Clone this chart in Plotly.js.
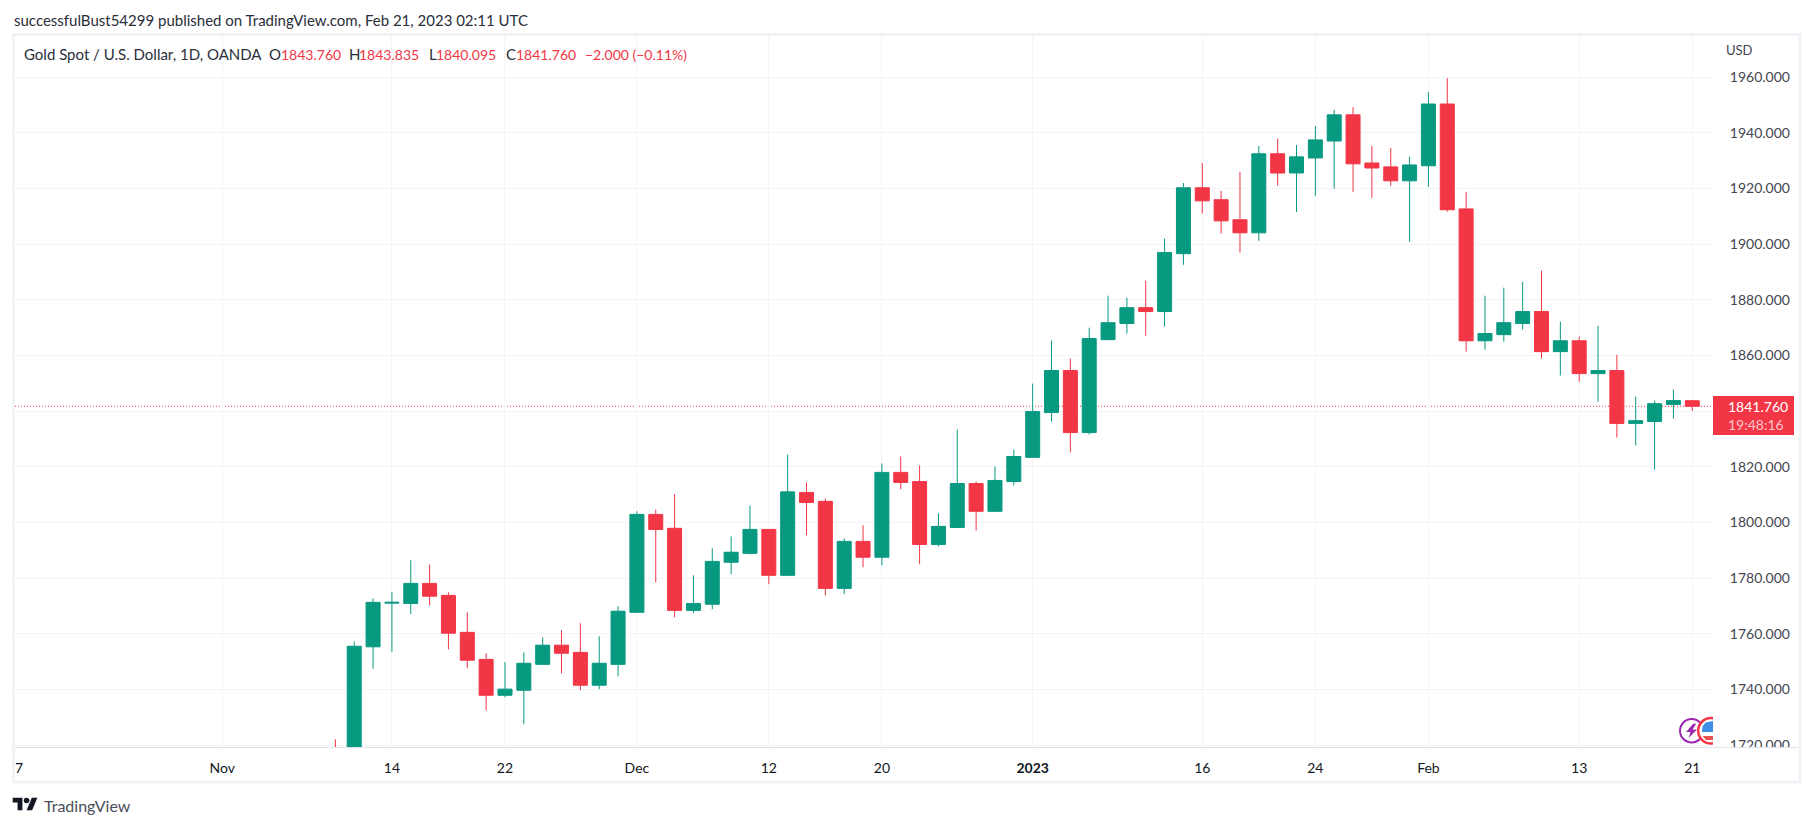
<!DOCTYPE html>
<html>
<head>
<meta charset="utf-8">
<script src="https://cdn.plot.ly/plotly-3.0.1.min.js"></script>
<style>
  html, body { margin: 0; padding: 0; background: #fff; overflow: hidden; }
  #chart { width: 1813px; height: 826px; }
</style>
</head>
<body>
<div id="chart"></div>
<script>
// Gold spot daily candles
const dates = [
  'Nov 09', 'Nov 10', 'Nov 11', 'Nov 14', 'Nov 15', 'Nov 16', 'Nov 17', 'Nov 18', 'Nov 21', 'Nov 22',
  'Nov 23', 'Nov 24', 'Nov 25', 'Nov 28', 'Nov 29', 'Nov 30', 'Dec 01', 'Dec 02', 'Dec 05', 'Dec 06',
  'Dec 07', 'Dec 08', 'Dec 09', 'Dec 12', 'Dec 13', 'Dec 14', 'Dec 15', 'Dec 16', 'Dec 19', 'Dec 20',
  'Dec 21', 'Dec 22', 'Dec 23', 'Dec 27', 'Dec 28', 'Dec 29', 'Dec 30', 'Jan 03', 'Jan 04', 'Jan 05',
  'Jan 06', 'Jan 09', 'Jan 10', 'Jan 11', 'Jan 12', 'Jan 13', 'Jan 16', 'Jan 17', 'Jan 18', 'Jan 19',
  'Jan 20', 'Jan 23', 'Jan 24', 'Jan 25', 'Jan 26', 'Jan 27', 'Jan 30', 'Jan 31', 'Feb 01', 'Feb 02',
  'Feb 03', 'Feb 06', 'Feb 07', 'Feb 08', 'Feb 09', 'Feb 10', 'Feb 13', 'Feb 14', 'Feb 15', 'Feb 16',
  'Feb 17', 'Feb 20', 'Feb 21'
];
const opens = [
  1712, 1705.5, 1755.3, 1771, 1770.9, 1778.1, 1773.8, 1760.5, 1750.8, 1737.9,
  1739.7, 1749, 1755.9, 1753.3, 1741.5, 1749, 1767.7, 1802.9, 1797.9, 1768.4,
  1770.6, 1785.7, 1788.9, 1797.5, 1781, 1810.8, 1807.6, 1776.3, 1793.2, 1787.5,
  1818, 1814.7, 1792.1, 1798.2, 1814, 1804, 1814.7, 1823.4, 1839.5, 1854.6,
  1832.3, 1865.7, 1871.5, 1877.2, 1875.8, 1896.6, 1920.3, 1916, 1908.8, 1904.1,
  1932.5, 1925.6, 1931, 1937.1, 1946.5, 1929.2, 1927.8, 1922.8, 1928.2, 1950.4,
  1912.7, 1865.3, 1867.5, 1871.5, 1875.8, 1861.4, 1865.3, 1853.5, 1854.6, 1835.6,
  1836.3, 1842.4, 1843.76
];
const highs = [
  1722.1, 1757.3, 1772.7, 1774.9, 1786.4, 1784.9, 1774.9, 1767.7, 1753, 1749.8,
  1753.3, 1758.7, 1761.3, 1763.8, 1759.1, 1769.9, 1804, 1804.7, 1810.2, 1781,
  1790.7, 1795, 1806.1, 1797.5, 1824.4, 1814.4, 1808.6, 1794.3, 1799, 1821.2,
  1823.7, 1820.5, 1803.3, 1833.4, 1814.7, 1820.1, 1826.2, 1849.9, 1865.4, 1858.9,
  1870, 1881.5, 1880.8, 1886.9, 1902, 1922, 1929.2, 1919.2, 1926, 1935.3,
  1937.9, 1935.7, 1942.5, 1948.3, 1949.3, 1935.3, 1934.6, 1931.4, 1954.7, 1959.7,
  1918.8, 1881.5, 1884.4, 1886.5, 1890.5, 1872.2, 1866.8, 1870.7, 1860.3, 1845.2,
  1843.8, 1847.8, 1843.835
];
const lows = [
  1704, 1702, 1747.4, 1753.5, 1767.1, 1770.2, 1754.4, 1747.6, 1732.5, 1737.2,
  1727.5, 1749, 1745.8, 1739.7, 1740.1, 1744.7, 1767.7, 1778.5, 1765.9, 1767.4,
  1768.8, 1781.4, 1788.5, 1777.8, 1781, 1795.4, 1773.8, 1774.2, 1783.9, 1784.6,
  1811.9, 1785, 1791.4, 1798.2, 1797.1, 1804, 1813.3, 1823.4, 1836.3, 1825.2,
  1831.6, 1865.7, 1867.9, 1867.1, 1870.4, 1892.6, 1911, 1903.8, 1897, 1901.2,
  1921, 1911.6, 1917.4, 1919.9, 1918.8, 1916.7, 1921, 1900.9, 1920.6, 1911.7,
  1861.4, 1862.1, 1865, 1869.3, 1858.9, 1852.8, 1850.6, 1843.4, 1830.5, 1827.7,
  1819, 1837.3, 1840.095
];
const closes = [
  1705, 1755.5, 1771.3, 1771.3, 1778.1, 1773.5, 1760.2, 1750.5, 1737.9, 1740.1,
  1749.4, 1755.9, 1753, 1741.5, 1749.4, 1768.1, 1802.9, 1797.5, 1768.4, 1770.9,
  1786, 1789.3, 1797.5, 1781, 1811, 1807.2, 1776.3, 1793.2, 1787.5, 1818,
  1814.4, 1792.1, 1798.6, 1814, 1804, 1815.1, 1823.7, 1839.9, 1854.6, 1832.3,
  1866.1, 1871.8, 1877.2, 1875.8, 1897, 1920.3, 1915.6, 1908.4, 1904.1, 1932.5,
  1925.6, 1931.4, 1937.5, 1946.5, 1928.9, 1927.4, 1922.8, 1928.5, 1950.4, 1912.4,
  1865.3, 1867.9, 1871.8, 1875.8, 1861.4, 1865.3, 1853.5, 1854.6, 1835.6, 1836.6,
  1842.7, 1843.8, 1841.76
];

// index into dates; the first two labels fall on earlier days that are off the bottom of the chart
const tickIndex = [-17, -6, 3, 9, 16, 23, 29, 37, 46, 52, 58, 66, 72];
const tickLabels = ['17', 'Nov', '14', '22', 'Dec', '12', '20', '<b>2023</b>', '16', '24', 'Feb', '13', '21'];

// 1840 has its gridline but the last price tag sits where its label would be
const priceTicks = [1720, 1740, 1760, 1780, 1800, 1820, 1840, 1860, 1880, 1900, 1920, 1940, 1960];
const priceLabels = ['1720.000', '1740.000', '1760.000', '1780.000', '1800.000', '1820.000', '',
  '1860.000', '1880.000', '1900.000', '1920.000', '1940.000', '1960.000'];

const lastClose = 1841.76;

const GREEN = '#089981';
const RED = '#F23645';
const GRID = '#f3f4f7';
const FRAME = '#f0f1f6';
const INK = '#2a2e39';
const FONT = 'Lato, sans-serif';

const W = 1813, H = 826;
const margin = { l: 15, r: 100, t: 35, b: 79 };

// pixel position to paper coordinates
const px = x => (x - margin.l) / (W - margin.l - margin.r);
const py = y => 1 - (y - margin.t) / (H - margin.t - margin.b);

function rect(x0, y0, x1, y1, fill, line) {
  return {
    type: 'rect', xref: 'paper', yref: 'paper', layer: 'above',
    x0: px(x0), x1: px(x1), y0: py(y0), y1: py(y1),
    fillcolor: fill, line: line || { width: 0 }
  };
}
function circle(cx, cy, r, fill, color, width) {
  return {
    type: 'circle', xref: 'paper', yref: 'paper', layer: 'above',
    x0: px(cx - r), x1: px(cx + r), y0: py(cy + r), y1: py(cy - r),
    fillcolor: fill, line: { color: color, width: width }
  };
}
function poly(points, fill) {
  const d = points.map((p, i) => (i ? 'L' : 'M') + px(p[0]) + ',' + py(p[1])).join(' ') + ' Z';
  return { type: 'path', xref: 'paper', yref: 'paper', layer: 'above', path: d, fillcolor: fill, line: { width: 0 } };
}
function label(x, y, text, size, color) {
  return {
    xref: 'paper', yref: 'paper', x: px(x), y: py(y), text: text, showarrow: false,
    xanchor: 'left', yanchor: 'middle', borderpad: 0,
    font: { family: FONT, size: size, color: color }
  };
}

// TradingView logo, 36 unit wide mark scaled to the footer
const logoX = u => 12.7 + u * 0.694;
const logoY = u => 794.9 + u * 0.694;
const logo = [
  poly([[14, 22], [7, 22], [7, 11], [0, 11], [0, 4], [14, 4]].map(p => [logoX(p[0]), logoY(p[1])]), '#131722'),
  poly([[28, 22], [20, 22], [27.5, 4], [35.5, 4]].map(p => [logoX(p[0]), logoY(p[1])]), '#131722'),
  circle(logoX(20), logoY(8), 4 * 0.694, '#131722', '#131722', 0)
];

// economic event icons at the bottom right of the plot
const icons = [
  circle(1691.7, 730.7, 11.7, '#fff', '#9c27b0', 2),
  poly([[1693.5, 723.5], [1686, 732], [1690.5, 732], [1688.5, 738], [1697, 729.5], [1692.5, 729.5], [1696, 724]], '#9c27b0'),
  circle(1711, 730.8, 12.8, '#fff', RED, 2.5),
  poly([[1702.5, 726.5], [1705.5, 722.5], [1713, 721], [1713, 732], [1702, 732]], '#3d8ee6'),
  poly([[1702.5, 736], [1713, 736], [1713, 740], [1706, 740]], '#ef5350')
];

const shapes = [
  // last price line
  {
    type: 'line', xref: 'paper', yref: 'y', x0: 0, x1: 1, y0: lastClose, y1: lastClose,
    layer: 'below', line: { color: RED, width: 1, dash: '1px,2px' }
  },
  ...icons,
  // hide what the axis panels clip
  rect(1713, 700, 1726, 746.5, '#fff'),
  rect(1713, 747.5, 1798, 780, '#fff'),
  rect(0, 748, 15.5, 781, '#fff'),
  // time axis line
  { type: 'line', xref: 'paper', yref: 'paper', layer: 'above', x0: 0, x1: px(1800), y0: py(747.5), y1: py(747.5), line: { color: '#e3e4ea', width: 1 } },
  // outer frame
  rect(13.5, 34.5, 1800, 782, 'rgba(0,0,0,0)', { color: FRAME, width: 2.5 }),
  // last price tag
  rect(1713, 396, 1794, 435, RED),
  ...logo
];

// symbol line, each piece placed where the reference has it
const legendX = [23.3, 268, 280, 348, 358, 427.5, 435, 505, 515, 584];
const legendTexts = ['Gold Spot / U.S. Dollar, 1D, OANDA', 'O', '1843.760', 'H', '1843.835', 'L', '1840.095', 'C', '1841.760', '−2.000 (−0.11%)'];
const legendRed = [false, false, true, false, true, false, true, false, true, true];

const annotations = [
  label(13, 20, 'successfulBust54299 published on TradingView.com, Feb 21, 2023 02:11 UTC', 15, INK),
  ...legendTexts.map((t, i) => label(legendX[i], 54, t, legendRed[i] ? 14 : 15, legendRed[i] ? RED : INK)),
  label(1724.7, 50.5, 'USD', 13, '#434651'),
  label(1727, 406.7, '1841.760', 14, '#fff'),
  label(1727, 425, '19:48:16', 14, 'rgba(255,255,255,0.72)'),
  label(42.7, 805, 'TradingView', 16, '#4a4e59')
];

const trace = {
  type: 'candlestick',
  x: dates.map((d, i) => i),
  open: opens, high: highs, low: lows, close: closes,
  text: dates,
  whiskerwidth: 0,
  increasing: { line: { color: GREEN, width: 1 }, fillcolor: GREEN },
  decreasing: { line: { color: RED, width: 1 }, fillcolor: RED },
  showlegend: false
};

const layout = {
  width: W, height: H,
  margin: margin,
  paper_bgcolor: '#fff',
  plot_bgcolor: '#fff',
  font: { family: FONT, color: '#131722' },
  boxgap: 0.257,
  boxgroupgap: 0,
  showlegend: false,
  xaxis: {
    type: 'linear',
    range: [-17.0, 73.1],
    rangeslider: { visible: false },
    tickmode: 'array',
    tickvals: tickIndex,
    ticktext: tickLabels,
    ticks: 'outside', ticklen: 8, tickcolor: 'rgba(0,0,0,0)',
    showgrid: true, gridcolor: GRID, gridwidth: 1,
    zeroline: false, showline: false,
    tickfont: { family: FONT, size: 14, color: '#131722' }
  },
  yaxis: {
    side: 'right',
    range: [1719.3, 1975.2],
    tickmode: 'array',
    tickvals: priceTicks,
    ticktext: priceLabels,
    ticks: 'outside', ticklen: 13, tickcolor: 'rgba(0,0,0,0)',
    showgrid: true, gridcolor: GRID, gridwidth: 1,
    zeroline: false, showline: false,
    tickfont: { family: FONT, size: 14, color: '#434651' }
  },
  shapes: shapes,
  annotations: annotations
};

Plotly.newPlot('chart', [trace], layout, { displayModeBar: false, staticPlot: true });
</script>
</body>
</html>
